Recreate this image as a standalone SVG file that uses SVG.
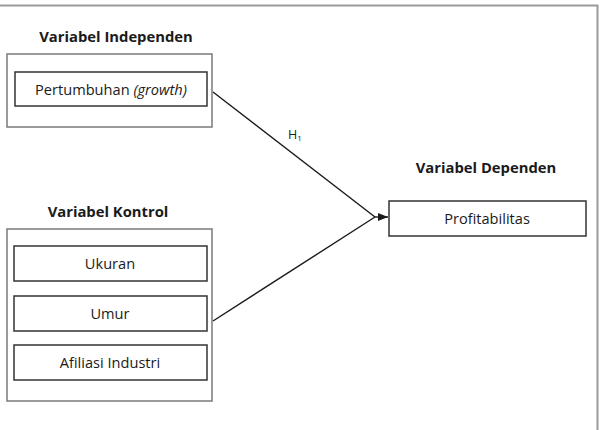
<svg xmlns="http://www.w3.org/2000/svg" width="600" height="430" viewBox="0 0 600 430">
<style>
.frame{fill:none;stroke:#9a9a9a;stroke-width:2}
.outer{fill:#fff;stroke:#7a7a7a;stroke-width:1.5}
.inner{fill:#fff;stroke:#333;stroke-width:1.5}
.title{font-family:"Open Sans","Liberation Sans",sans-serif;font-weight:bold;font-size:14.8px;fill:#1a1a1a;text-anchor:middle}
.lbl{font-family:"Open Sans","Liberation Sans",sans-serif;font-size:14.6px;fill:#1a1a1a;text-anchor:middle}
.conn{fill:none;stroke:#1a1a1a;stroke-width:1.4}
</style>
<defs>
<marker id="arr" markerWidth="10" markerHeight="8" refX="10" refY="4" orient="auto" markerUnits="userSpaceOnUse">
<path d="M0,0 L10,4 L0,8 Z" fill="#1a1a1a"/>
</marker>
</defs>
<rect width="600" height="430" fill="#fff"/>
<path class="frame" d="M0,5.5 H597.5 V430"/>
<g id="independen">
<text class="title" x="116" y="41.5">Variabel Independen</text>
<rect class="outer" x="7" y="54" width="205" height="73"/>
<rect class="inner" x="15" y="72" width="192" height="34"/>
<text class="lbl" x="111" y="94.5">Pertumbuhan <tspan font-style="italic">(growth)</tspan></text>
</g>
<g id="kontrol">
<text class="title" x="108" y="216.5">Variabel Kontrol</text>
<rect class="outer" x="7" y="229" width="205" height="172"/>
</g>
<g id="ukuran">
<rect class="inner" x="14" y="246" width="193" height="35"/>
<text class="lbl" x="110" y="268.5">Ukuran</text>
</g>
<g id="umur">
<rect class="inner" x="14" y="296" width="193" height="35"/>
<text class="lbl" x="110" y="318.5">Umur</text>
</g>
<g id="afiliasi">
<rect class="inner" x="14" y="345" width="193" height="35"/>
<text class="lbl" x="110" y="367.5">Afiliasi Industri</text>
</g>
<g id="dependen">
<text class="title" x="486" y="172.5">Variabel Dependen</text>
<rect class="inner" x="389" y="201" width="197" height="35"/>
<text class="lbl" x="487" y="223.5">Profitabilitas</text>
</g>
<g id="connectors">
<path class="conn" d="M213,92 L375,217"/>
<path class="conn" d="M213,321 L375,217"/>
<path class="conn" d="M375,217 H388" marker-end="url(#arr)"/>
<text font-family="'Open Sans','Liberation Sans',sans-serif" font-size="12.5" fill="#1a1a1a" x="288" y="139">H<tspan font-size="8" dy="2">1</tspan></text>
</g>
</svg>
